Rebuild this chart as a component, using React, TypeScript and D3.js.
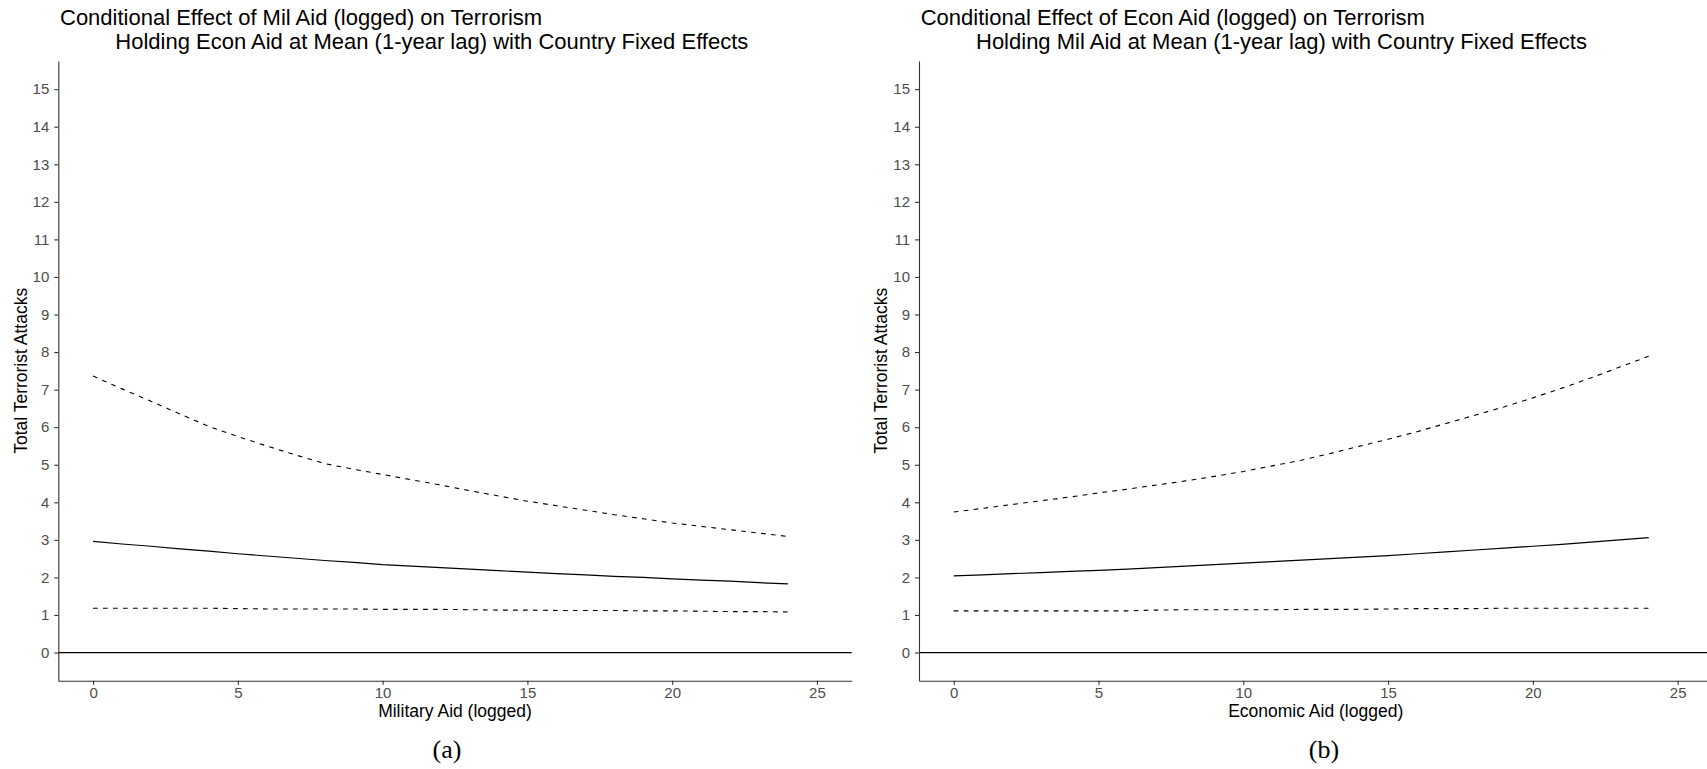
import React, { useRef, useEffect } from 'react';
import * as d3 from 'd3';

// aid (logged) grid the predictions were computed on
const aidLevels = [0, 1, 2, 3, 4, 5, 6, 7, 8, 9, 10, 11, 12, 13, 14, 15, 16, 17, 18, 19, 20, 21, 22, 23, 24];

// panel (a): military aid
const milFit = [2.96, 2.89, 2.83, 2.76, 2.7, 2.63, 2.57, 2.51, 2.45, 2.4, 2.34, 2.3, 2.26, 2.22, 2.18, 2.14, 2.1, 2.07, 2.03, 2.0, 1.96, 1.93, 1.9, 1.86, 1.83];
const milLower = [1.18, 1.18, 1.18, 1.18, 1.18, 1.17, 1.16, 1.16, 1.16, 1.16, 1.15, 1.15, 1.15, 1.14, 1.13, 1.13, 1.12, 1.12, 1.12, 1.11, 1.11, 1.1, 1.09, 1.09, 1.08];
const milUpper = [7.36, 7.02, 6.69, 6.35, 6.02, 5.75, 5.5, 5.26, 5.03, 4.88, 4.74, 4.6, 4.46, 4.31, 4.17, 4.03, 3.91, 3.79, 3.67, 3.56, 3.45, 3.36, 3.27, 3.18, 3.09];

// panel (b): economic aid
const econFit = [2.04, 2.07, 2.1, 2.13, 2.16, 2.19, 2.22, 2.26, 2.3, 2.34, 2.38, 2.42, 2.46, 2.5, 2.54, 2.58, 2.63, 2.68, 2.73, 2.78, 2.83, 2.88, 2.94, 3.0, 3.06];
const econLower = [1.11, 1.11, 1.11, 1.11, 1.11, 1.11, 1.11, 1.13, 1.14, 1.14, 1.14, 1.14, 1.15, 1.15, 1.15, 1.16, 1.17, 1.17, 1.17, 1.18, 1.18, 1.18, 1.18, 1.18, 1.18];
const econUpper = [3.74, 3.84, 3.94, 4.04, 4.14, 4.25, 4.35, 4.46, 4.57, 4.69, 4.82, 4.97, 5.12, 5.3, 5.49, 5.68, 5.88, 6.1, 6.32, 6.54, 6.78, 7.04, 7.31, 7.6, 7.89];

const xTicks = [0, 5, 10, 15, 20, 25];
const yTicks = [0, 1, 2, 3, 4, 5, 6, 7, 8, 9, 10, 11, 12, 13, 14, 15];

const panels = [
  {
    x0: 58.3,
    title1: 'Conditional Effect of Mil Aid (logged) on Terrorism',
    title2: 'Holding Econ Aid at Mean (1-year lag) with Country Fixed Effects',
    xLabel: 'Military Aid (logged)',
    caption: '(a)',
    captionX: 447,
    fit: milFit,
    lower: milLower,
    upper: milUpper,
  },
  {
    x0: 919,
    title1: 'Conditional Effect of Econ Aid (logged) on Terrorism',
    title2: 'Holding Mil Aid at Mean (1-year lag) with Country Fixed Effects',
    xLabel: 'Economic Aid (logged)',
    caption: '(b)',
    captionX: 1324,
    fit: econFit,
    lower: econLower,
    upper: econUpper,
  },
];

const W = 1707, H = 769;
const panelW = 793.4;
const top = 61, bottom = 680.7;
const sans = '"Liberation Sans", Arial, sans-serif';

const App = () => {
  const ref = useRef(null);

  useEffect(() => {
    const svg = d3.select(ref.current);
    svg.selectAll('*').remove();

    svg.append('rect').attr('width', W).attr('height', H).attr('fill', '#fff');

    const y = d3.scaleLinear().domain([-0.75, 15.75]).range([bottom, top]);

    panels.forEach((p) => {
      const x = d3.scaleLinear().domain([-1.2, 26.2]).range([p.x0, p.x0 + panelW]);
      const g = svg.append('g');

      // titles (second line is indented in the original)
      g.append('text')
        .attr('x', p.x0 + 1.7).attr('y', 24.5)
        .attr('font-family', sans).attr('font-size', 22).attr('fill', '#000')
        .text(p.title1);
      g.append('text')
        .attr('x', p.x0 + 57).attr('y', 48.5)
        .attr('font-family', sans).attr('font-size', 22).attr('fill', '#000')
        .text(p.title2);

      // reference line at zero
      g.append('line')
        .attr('x1', x.range()[0]).attr('x2', x.range()[1])
        .attr('y1', y(0)).attr('y2', y(0))
        .attr('stroke', '#000').attr('stroke-width', 1.2);

      const line = d3.line()
        .x((d, i) => x(aidLevels[i]))
        .y((d) => y(d));

      [p.lower, p.upper].forEach((s) => {
        g.append('path')
          .attr('d', line(s))
          .attr('fill', 'none').attr('stroke', '#000')
          .attr('stroke-width', 1.1).attr('stroke-dasharray', '4.7,5.3');
      });
      g.append('path')
        .attr('d', line(p.fit))
        .attr('fill', 'none').attr('stroke', '#000').attr('stroke-width', 1.2);

      // axes
      const xAxis = g.append('g')
        .attr('transform', `translate(0,${bottom})`)
        .call(d3.axisBottom(x).tickValues(xTicks).tickSize(4).tickSizeOuter(0).tickPadding(3));
      const yAxis = g.append('g')
        .attr('transform', `translate(${p.x0},0)`)
        .call(d3.axisLeft(y).tickValues(yTicks).tickSize(4).tickSizeOuter(0).tickPadding(5));

      [xAxis, yAxis].forEach((a) => {
        a.select('.domain').attr('stroke', '#333').attr('stroke-width', 1.1);
        a.selectAll('.tick line').attr('stroke', '#333').attr('stroke-width', 1.1);
        a.selectAll('.tick text')
          .attr('font-family', sans).attr('font-size', 15).attr('fill', '#4D4D4D');
      });

      // axis titles
      g.append('text')
        .attr('x', p.x0 + panelW / 2).attr('y', 717)
        .attr('text-anchor', 'middle')
        .attr('font-family', sans).attr('font-size', 17.5).attr('fill', '#000')
        .text(p.xLabel);
      g.append('text')
        .attr('transform', `translate(${p.x0 - 31.6},${(top + bottom) / 2}) rotate(-90)`)
        .attr('text-anchor', 'middle')
        .attr('font-family', sans).attr('font-size', 17.5).attr('fill', '#000')
        .text('Total Terrorist Attacks');

      // caption
      g.append('text')
        .attr('x', p.captionX).attr('y', 758)
        .attr('text-anchor', 'middle')
        .attr('font-family', '"Liberation Serif", "Times New Roman", serif')
        .attr('font-size', 26).attr('fill', '#000')
        .text(p.caption);
    });
  }, []);

  return (
    <div style={{ position: 'absolute', left: 0, top: 0 }}>
      <svg ref={ref} width={W} height={H} style={{ display: 'block' }}></svg>
    </div>
  );
};

export default App;
